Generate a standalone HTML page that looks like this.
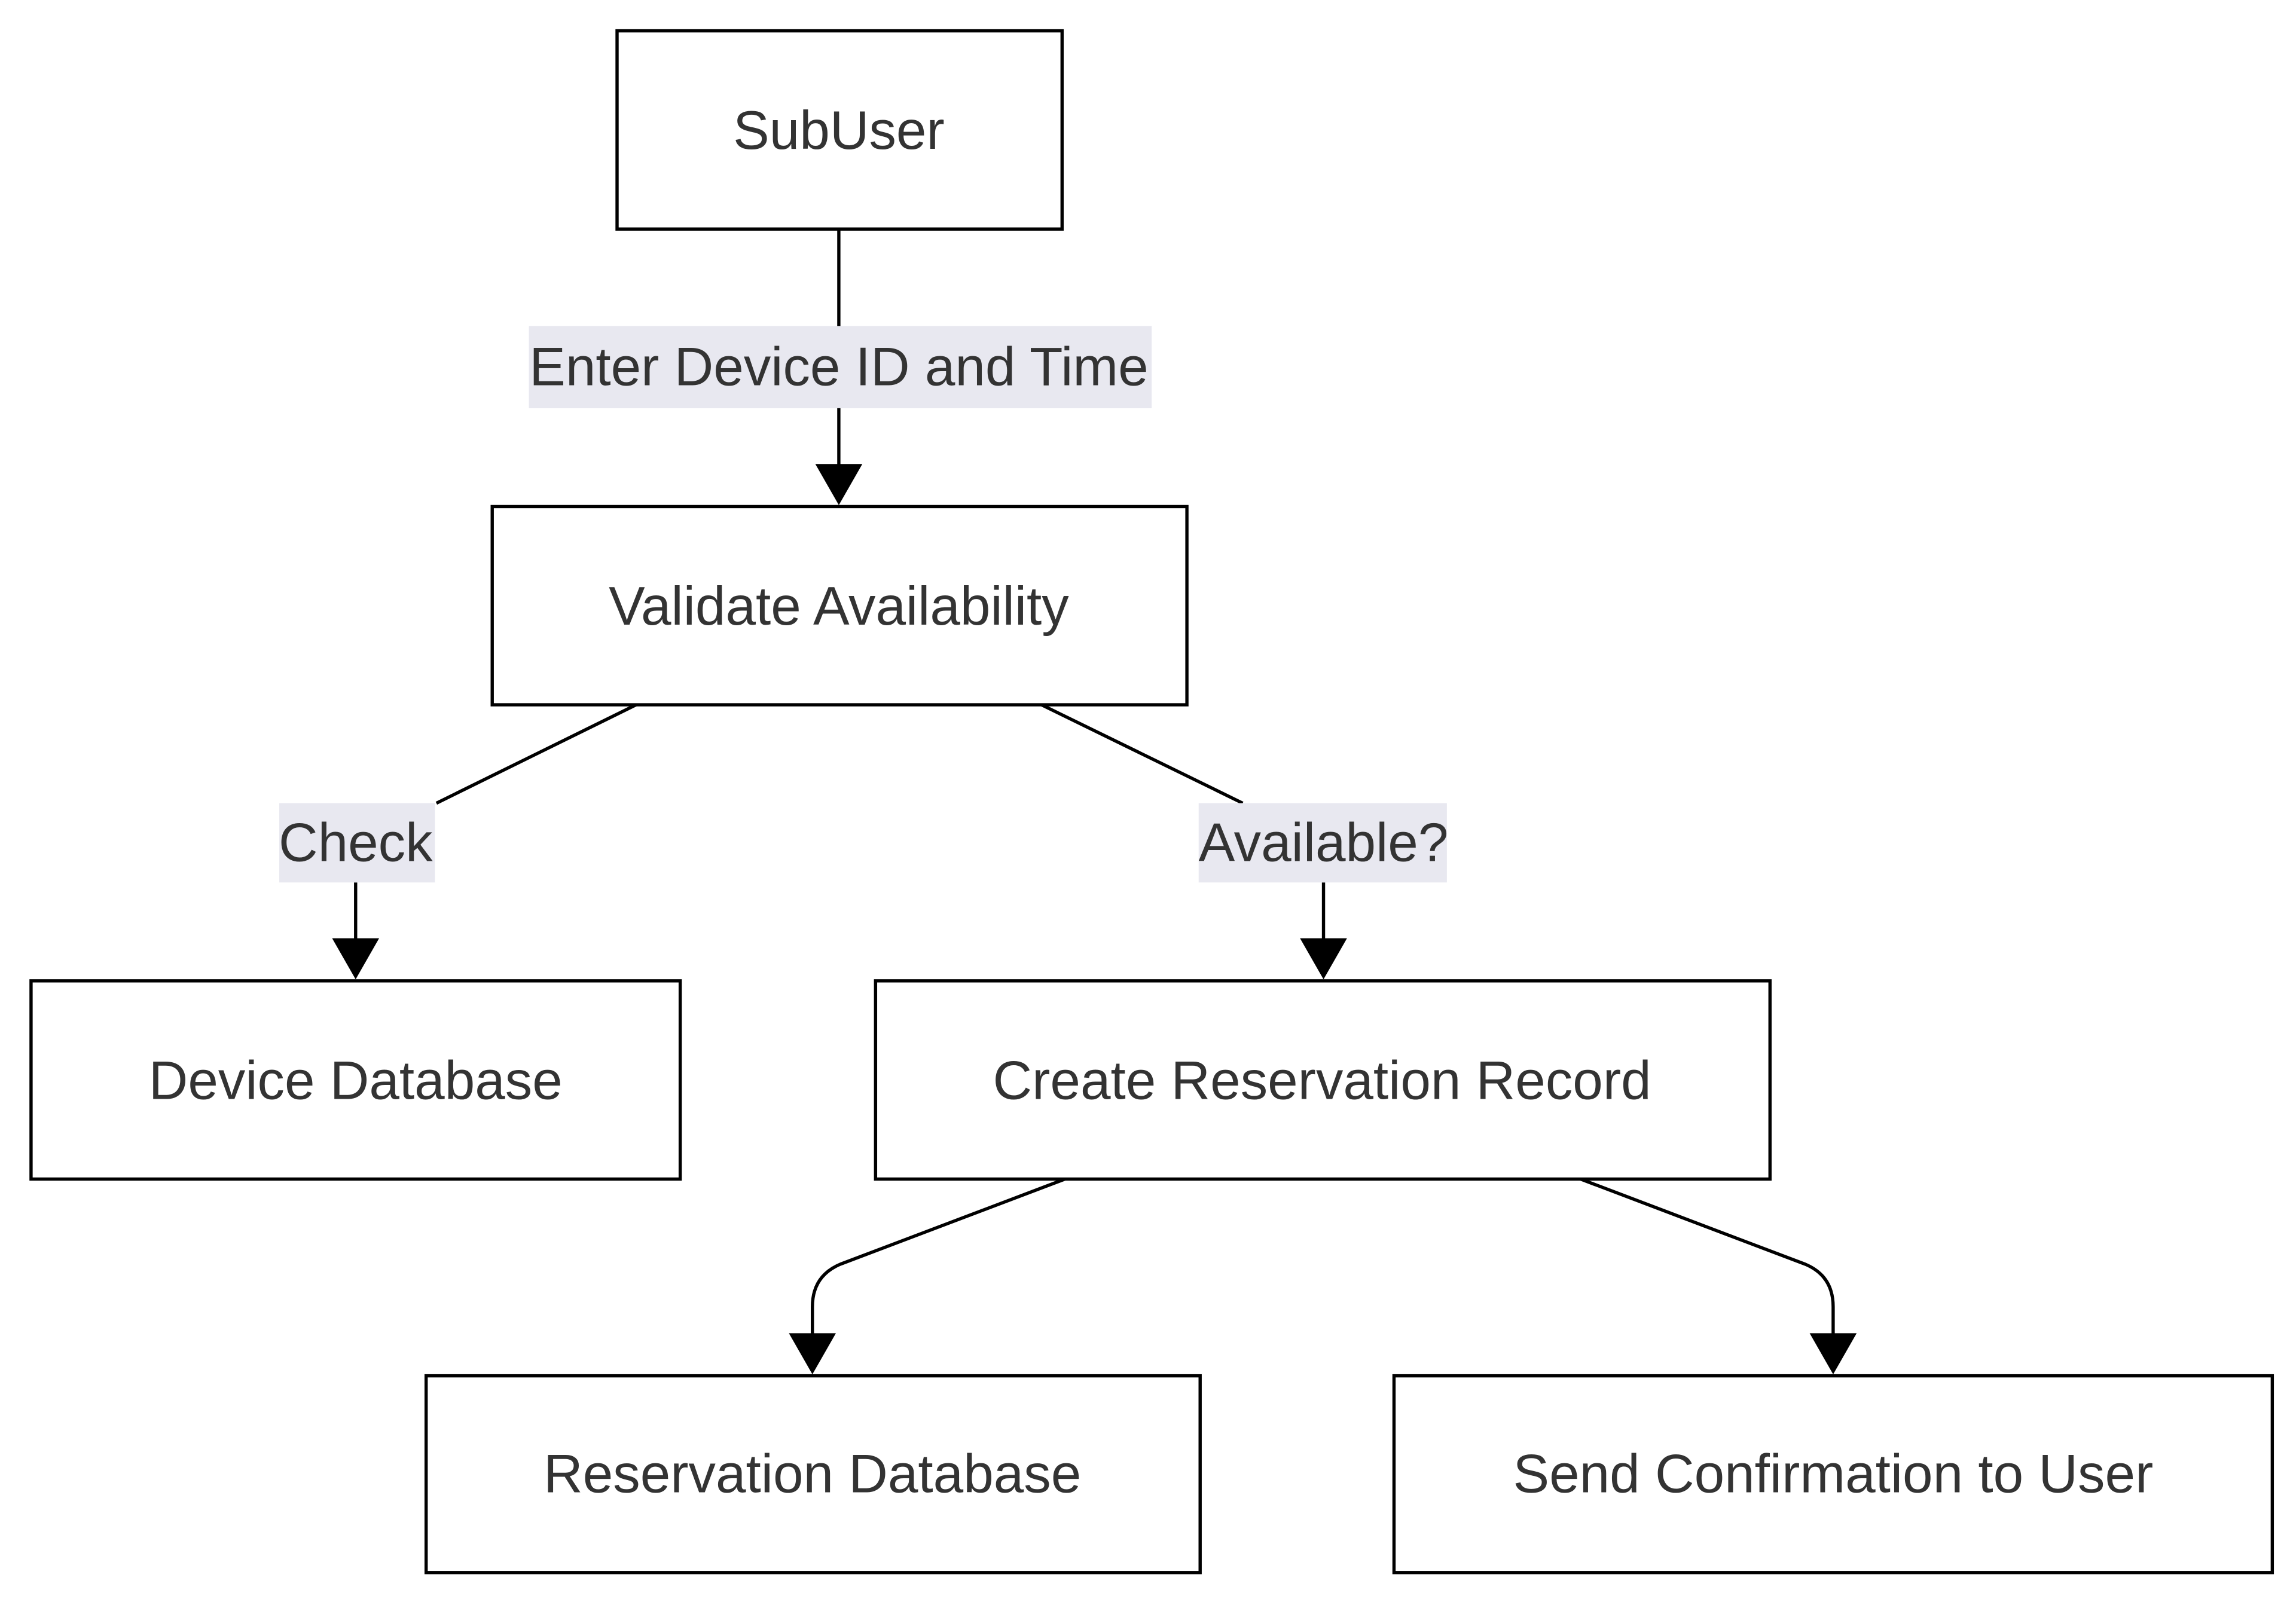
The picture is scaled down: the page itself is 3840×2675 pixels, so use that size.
<!DOCTYPE html>
<html><head><meta charset="utf-8"><style>
html,body{margin:0;padding:0;background:#fff;}
svg{display:block;}
text{font-family:"Liberation Sans",Arial,sans-serif;font-size:37px;fill:#333;text-anchor:middle;dominant-baseline:central;}
</style></head><body>
<svg width="3840" height="2675" viewBox="0 0 1563 1089" xmlns="http://www.w3.org/2000/svg">
<rect width="1563" height="1089" fill="#fff"/>
<g fill="none" stroke="#000" stroke-width="2.2">
<path d="M571 156 V318"/>
<path d="M433 480 L297 547"/>
<path d="M242 601 V641"/>
<path d="M709 480 L846 547"/>
<path d="M901 601 V641"/>
<path d="M725 803 L572 861 Q553 869 553 890 V910"/>
<path d="M1076 803 L1229 861 Q1248 869 1248 890 V910"/>
</g>
<g fill="#000">
<path d="M555 316 L587 316 L571 344 Z"/>
<path d="M226 639 L258 639 L242 667 Z"/>
<path d="M885 639 L917 639 L901 667 Z"/>
<path d="M537 908 L569 908 L553 936 Z"/>
<path d="M1232 908 L1264 908 L1248 936 Z"/>
</g>
<g fill="#e8e8f0">
<rect x="360" y="222" width="424" height="56"/>
<rect x="190" y="547" width="106" height="54"/>
<rect x="816" y="547" width="169" height="54"/>
</g>
<g fill="#fff" stroke="#000" stroke-width="2.2">
<rect x="420" y="21" width="303" height="135"/>
<rect x="335" y="345" width="473" height="135"/>
<rect x="21" y="668" width="442" height="135"/>
<rect x="596" y="668" width="609" height="135"/>
<rect x="290" y="937" width="527" height="134"/>
<rect x="949" y="937" width="598" height="134"/>
</g>
<text x="571" y="89">SubUser</text>
<text x="571" y="250">Enter Device ID and Time</text>
<text x="571" y="413">Validate Availability</text>
<text x="242" y="574">Check</text>
<text x="901" y="574">Available?</text>
<text x="242" y="736">Device Database</text>
<text x="900" y="736">Create Reservation Record</text>
<text x="553" y="1004">Reservation Database</text>
<text x="1248" y="1004">Send Confirmation to User</text>
</svg>
</body></html>
